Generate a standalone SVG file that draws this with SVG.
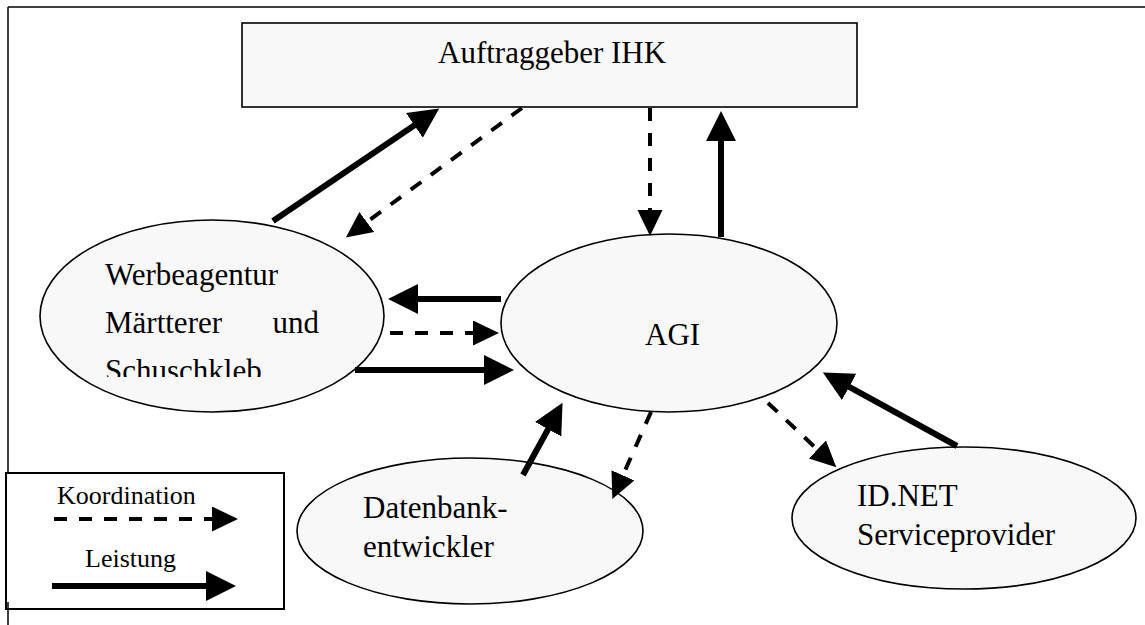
<svg xmlns="http://www.w3.org/2000/svg" width="1145" height="625" viewBox="0 0 1145 625">
<style>
.node{fill:#f8f8f8;stroke:#000;stroke-width:1.6}
.t{font-family:"Liberation Serif","Times New Roman",serif;font-size:31px;fill:#000}
.lt{font-family:"Liberation Serif","Times New Roman",serif;font-size:26px;fill:#000}
.solid{stroke:#000;stroke-width:6;fill:none}
.dash{stroke:#000;stroke-width:4;fill:none;stroke-dasharray:13 12}
</style>
<defs>
<marker id="hs" markerUnits="userSpaceOnUse" markerWidth="32" markerHeight="32" refX="1" refY="15" orient="auto">
<path d="M0,0 L30,15 L0,30 z" fill="#000"/>
</marker>
<marker id="hd" markerUnits="userSpaceOnUse" markerWidth="28" markerHeight="28" refX="1" refY="12.5" orient="auto">
<path d="M0,0 L26,12.5 L0,25 z" fill="#000"/>
</marker>
<clipPath id="wclip"><rect x="0" y="0" width="1145" height="377"/></clipPath>
</defs>
<rect width="1145" height="625" fill="#fff"/>
<g id="frame" stroke="#000" stroke-width="1.5">
<line x1="8" y1="7" x2="1145" y2="7"/>
<line x1="8" y1="7" x2="8" y2="625"/>
</g>
<g id="ihk">
<rect class="node" x="242" y="23" width="615" height="84"/>
<text class="t" x="438" y="63">Auftraggeber IHK</text>
</g>
<g id="werbeagentur">
<ellipse class="node" cx="212" cy="316" rx="172" ry="96"/>
<g clip-path="url(#wclip)">
<text class="t" x="105" y="285">Werbeagentur</text>
<text class="t" x="105" y="333">Märtterer</text>
<text class="t" x="319" y="333" text-anchor="end">und</text>
<text class="t" x="105" y="381">Schuschkleb</text>
</g>
</g>
<g id="agi">
<ellipse class="node" cx="669" cy="323" rx="168" ry="89"/>
<text class="t" x="645" y="345">AGI</text>
</g>
<g id="datenbank">
<ellipse class="node" cx="470" cy="531" rx="173" ry="73"/>
<text class="t" x="363" y="518">Datenbank-</text>
<text class="t" x="363" y="557">entwickler</text>
</g>
<g id="idnet">
<ellipse class="node" cx="964" cy="518" rx="172" ry="71"/>
<text class="t" x="857" y="506">ID.NET</text>
<text class="t" x="857" y="545">Serviceprovider</text>
</g>
<g id="connectors">
<line class="solid" x1="273" y1="221" x2="415.2" y2="124.8" marker-end="url(#hs)"/>
<line class="dash" x1="522" y1="108" x2="366" y2="222.6" marker-end="url(#hd)"/>
<line class="dash" x1="650" y1="108" x2="650" y2="211" marker-end="url(#hd)"/>
<line class="solid" x1="721" y1="237" x2="721" y2="140" marker-end="url(#hs)"/>
<line class="solid" x1="501" y1="299" x2="417" y2="299" marker-end="url(#hs)"/>
<line class="dash" x1="390" y1="333" x2="474" y2="333" marker-end="url(#hd)"/>
<line class="solid" x1="355" y1="370" x2="485" y2="370" marker-end="url(#hs)"/>
<line class="solid" x1="523" y1="475" x2="548.6" y2="428.3" marker-end="url(#hs)"/>
<line class="dash" x1="651" y1="412" x2="622.5" y2="476.2" marker-end="url(#hd)"/>
<line class="dash" x1="768" y1="403" x2="818.1" y2="450.2" marker-end="url(#hd)"/>
<line class="solid" x1="957" y1="446" x2="848.3" y2="386.4" marker-end="url(#hs)"/>
</g>
<g id="legend">
<rect x="6" y="473" width="278" height="136" fill="#fff" stroke="#000" stroke-width="2"/>
<text class="lt" x="57" y="504">Koordination</text>
<line class="dash" x1="54" y1="519" x2="213" y2="519" marker-end="url(#hd)"/>
<text class="lt" x="85" y="567">Leistung</text>
<line class="solid" x1="52" y1="586" x2="207" y2="586" marker-end="url(#hs)"/>
<line x1="8" y1="602" x2="8" y2="609" stroke="#000" stroke-width="1.5"/>
</g>
</svg>
